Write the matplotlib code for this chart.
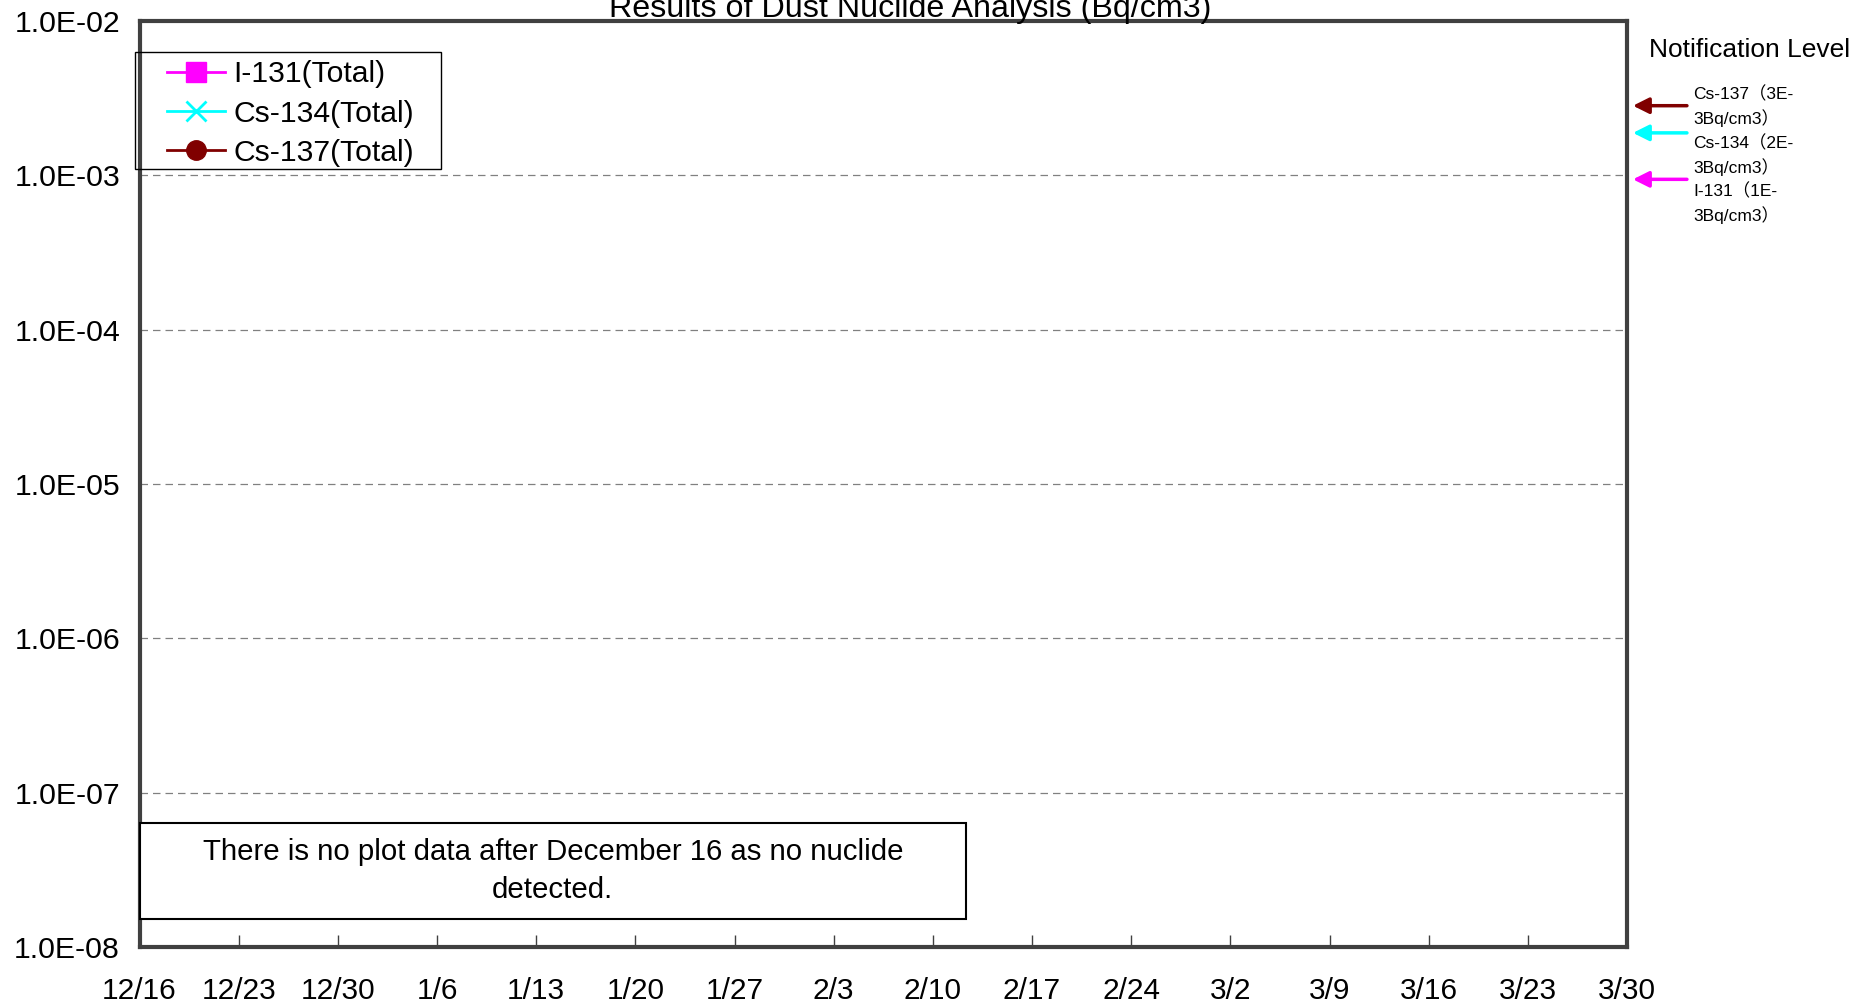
import matplotlib
matplotlib.use("Agg")
import matplotlib.pyplot as plt
import matplotlib.transforms as mtransforms
from matplotlib.lines import Line2D
from matplotlib.patches import Rectangle
import datetime as dt

plt.rcParams['font.family'] = ['Liberation Sans', 'Noto Sans CJK JP', 'DejaVu Sans']

# ---- data ----
title = "Results of Dust Nuclide Analysis (Bq/cm3)"
series_names = ["I-131(Total)", "Cs-134(Total)", "Cs-137(Total)"]
series_colors = ["#FF00FF", "#00FFFF", "#800000"]
series_markers = ["s", "x", "o"]
series_dates = [[], [], []]     # no nuclide detected -> no plot data
series_values = [[], [], []]
x_start = dt.date(2011, 12, 16)
x_end = dt.date(2012, 3, 30)
tick_step_days = 7
y_ticks = [1e-8, 1e-7, 1e-6, 1e-5, 1e-4, 1e-3, 1e-2]
y_tick_labels = ["1.0E-08", "1.0E-07", "1.0E-06", "1.0E-05", "1.0E-04", "1.0E-03", "1.0E-02"]
limit_names = ["Cs-137（3E-\n3Bq/cm3）", "Cs-134（2E-\n3Bq/cm3）", "I-131（1E-\n3Bq/cm3）"]
limit_values = [3e-3, 2e-3, 1e-3]
limit_colors = ["#800000", "#00FFFF", "#FF00FF"]
note_text = "There is no plot data after December 16 as no nuclide\ndetected."

W, H = 1854, 1005
fig = plt.figure(figsize=(W / 100, H / 100), dpi=100)
left, right, top, bottom = 139.5, 1627, 21, 947
ax = fig.add_axes([left / W, 1 - bottom / H, (right - left) / W, (bottom - top) / H])

for d, v, c, m, n in zip(series_dates, series_values, series_colors, series_markers, series_names):
    ax.plot(d, v, color=c, marker=m, label=n)

ax.set_yscale('log')
ax.set_ylim(1e-8, 1e-2)
ax.set_xlim(x_start, x_end)

xt = []
d = x_start
while d <= x_end:
    xt.append(d)
    d += dt.timedelta(days=tick_step_days)
ax.set_xticks(xt)
ax.set_xticklabels([f"{t.month}/{t.day}" for t in xt])
ax.set_yticks(y_ticks)
ax.set_yticklabels(y_tick_labels)
ax.yaxis.set_minor_locator(matplotlib.ticker.NullLocator())

ax.tick_params(axis='x', direction='in', length=9, width=1, color='#404040',
               labelsize=21.5, pad=21.5)
ax.tick_params(axis='y', length=0, labelsize=21.8, pad=14)

for s in ax.spines.values():
    s.set_linewidth(3)
    s.set_color('#404040')

for yv in y_ticks[1:-1]:
    ax.axhline(yv, color='#808080', lw=0.9, ls=(0, (6, 4)), zorder=1)

# title
fig.text(910 / W, 1 - 16.5 / H, title, ha='center', va='baseline', fontsize=23.2)

# legend (frame drawn separately)
handles = [Line2D([], [], color=c, marker=m, lw=2, markersize=14,
                  markeredgewidth=2 if m == 'x' else 1, label=n)
           for c, m, n in zip(series_colors, series_markers, series_names)]
leg = fig.legend(handles=handles, loc='upper left',
                 bbox_to_anchor=(167 / W, 1 - 60.5 / H), fontsize=21.7,
                 frameon=False, handlelength=1.93, handletextpad=0.27,
                 labelspacing=0.37, borderpad=0, borderaxespad=0)
fig.patches.append(Rectangle((135 / W, 1 - 169 / H), (441 - 135) / W, (169 - 52) / H,
                             transform=fig.transFigure, facecolor='none',
                             edgecolor='black', lw=1))

# note box
ax.add_patch(Rectangle((0, 0.0302), 0.5557, 0.1037, transform=ax.transAxes,
                       facecolor='white', edgecolor='black', lw=1.5, zorder=5,
                       clip_on=False))
ax.text(0.5557 / 2, 0.0302 + 0.1037 / 2, note_text, transform=ax.transAxes,
        ha='center', va='center', fontsize=21.2, zorder=6, linespacing=1.45)

# notification levels
fig.text(1649 / W, 1 - 50 / H, "Notification Level", ha='left', va='center', fontsize=19)
trans = mtransforms.blended_transform_factory(ax.transAxes, ax.transData)
trans = trans + mtransforms.ScaledTranslation(0, -4 / 100, fig.dpi_scale_trans)
for v, c in zip(limit_values, limit_colors):
    ax.annotate("", xy=(1.004, v), xycoords=trans, xytext=(1.0403, v), textcoords=trans,
                arrowprops=dict(arrowstyle='-|>', color=c, lw=2.5, mutation_scale=24,
                                shrinkA=0, shrinkB=0), annotation_clip=False)
label_tops = [86, 135, 183]
for t, y in zip(limit_names, label_tops):
    fig.text(1693 / W, 1 - y / H, t, ha='left', va='top', fontsize=12.5, linespacing=1.45)

fig.savefig("out.png", dpi=100)
